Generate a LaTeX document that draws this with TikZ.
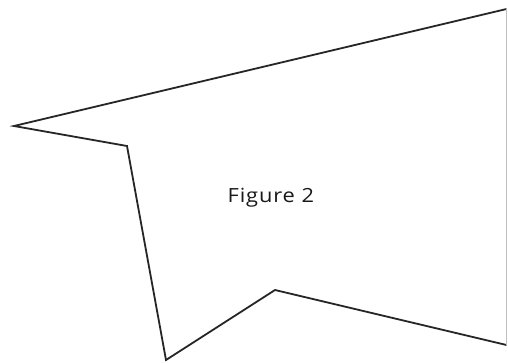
\documentclass[tikz,border=0pt]{standalone}
\usepackage{fontspec}
\setmainfont{Open Sans}
\newfontfamily\figfont[LetterSpace=4]{Open Sans}
\begin{document}
\begin{tikzpicture}[x=1pt,y=-1pt,
  outline/.style={draw=black!85,line width=1.8pt,line join=miter},
  edge/.style={draw=black!25,line width=0.6pt},
  label/.style={font=\figfont\fontsize{19.5}{21}\selectfont,text=black!90,inner sep=0pt}]
\useasboundingbox[fill=white] (0,0) rectangle (508,362);
\coordinate (tr) at (506.5,9);
\coordinate (tip) at (14,126);
\coordinate (notch) at (127,146);
\coordinate (bot) at (166,360);
\coordinate (peak) at (275,290);
\coordinate (br) at (506.5,345);
\draw[outline] (br) -- (peak) -- (bot) -- (notch) -- (tip) -- (tr);
\draw[edge] (tr) -- (br);
\node[label,anchor=base west] (fig) at (227.5,202) {\scalebox{1.12}[1]{Figure 2}};
\end{tikzpicture}
\end{document}
